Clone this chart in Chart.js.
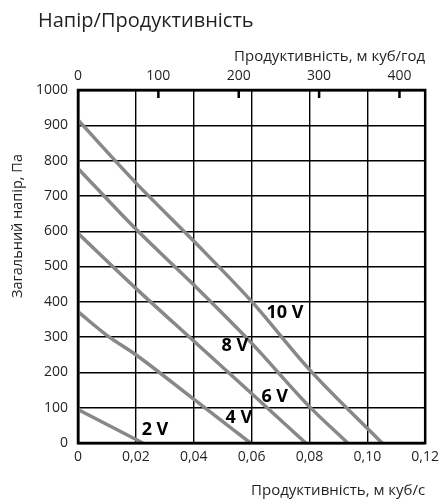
<!DOCTYPE html>
<html>
<head>
<meta charset="utf-8">
<script src="https://cdn.jsdelivr.net/npm/chart.js@4"></script>
<style>
  html, body { margin: 0; padding: 0; background: #fff; }
  #wrap { width: 445px; height: 500px; }
</style>
</head>
<body>
<div id="wrap"><canvas id="chart"></canvas></div>
<script>
// Напір/Продуктивність: flow (m3/s) vs pressure (Pa) per control voltage
const voltages = ['10 V', '8 V', '6 V', '4 V', '2 V'];
const flow10 = [0, 0.02, 0.04, 0.06, 0.08, 0.1051];
const head10 = [915, 737, 572, 401, 208, 0];
const flow8 = [0, 0.02, 0.04, 0.06, 0.08, 0.0932];
const head8 = [778, 606, 448, 283, 103, 0];
const flow6 = [0, 0.02, 0.04, 0.06, 0.0787];
const head6 = [594, 438, 289, 140, 0];
const flow4 = [0, 0.01, 0.02, 0.04, 0.0596];
const head4 = [372, 305, 250, 124, 0];
const flow2 = [0, 0.0224];
const head2 = [95, 0];
// where each voltage label sits (flow, pressure)
const labelFlow = [0.0715, 0.0542, 0.0680, 0.0556, 0.0266];
const labelHead = [370, 275, 132, 70, 36];

const flowMax = 0.12;      // m3/s
const headMax = 1000;      // Pa
const flowTicks = [0, 0.02, 0.04, 0.06, 0.08, 0.10, 0.12];
const hourTicks = [0, 100, 200, 300, 400];

const font = 'Open Sans';
const ink = '#231f20';

const curves = [[flow10, head10], [flow8, head8], [flow6, head6], [flow4, head4], [flow2, head2]];
const datasets = curves.map(([fx, hy], i) => ({
  label: voltages[i],
  data: fx.map((x, j) => ({ x: x, y: hy[j] })),
  borderColor: '#888888',
  borderWidth: 3.5,
  pointRadius: 0,
  cubicInterpolationMode: 'monotone',
  fill: false
}));

const decor = {
  id: 'decor',
  afterDatasetsDraw(chart) {
    const { ctx, chartArea: a, scales } = chart;
    ctx.save();
    // frame
    ctx.strokeStyle = '#000';
    ctx.lineWidth = 2.5;
    ctx.strokeRect(a.left, a.top, a.right - a.left, a.bottom - a.top);
    // inward ticks of the m3/h axis
    const top = scales.x2;
    top.ticks.forEach(t => {
      if (t.value === 0) return;
      const px = top.getPixelForValue(t.value);
      ctx.beginPath();
      ctx.moveTo(px, a.top);
      ctx.lineTo(px, a.top + 8);
      ctx.stroke();
    });
    // voltage labels
    ctx.fillStyle = '#000';
    ctx.font = 'bold 18px "' + font + '"';
    ctx.textAlign = 'center';
    ctx.textBaseline = 'middle';
    voltages.forEach((v, i) => {
      ctx.fillText(v, scales.x.getPixelForValue(labelFlow[i]), scales.y.getPixelForValue(labelHead[i]));
    });
    // title
    ctx.fillStyle = ink;
    ctx.font = '20px "' + font + '"';
    ctx.textAlign = 'left';
    ctx.fillText('Напір/Продуктивність', 38, 21);
    // y axis title
    ctx.font = '14.5px "' + font + '"';
    ctx.textAlign = 'center';
    ctx.translate(18, 226);
    ctx.rotate(-Math.PI / 2);
    ctx.fillText('Загальний напір, Па', 0, 0);
    ctx.restore();
  }
};

new Chart(document.getElementById('chart'), {
  type: 'line',
  data: { datasets: datasets },
  options: {
    responsive: true,
    maintainAspectRatio: false,
    animation: false,
    layout: { padding: { top: 32, right: 13, left: 0, bottom: 0 } },
    plugins: { legend: { display: false }, tooltip: { enabled: false } },
    scales: {
      x: {
        type: 'linear',
        position: 'bottom',
        min: 0,
        max: flowMax,
        afterBuildTicks: s => { s.ticks = flowTicks.map(v => ({ value: v })); },
        afterFit: s => { s.height = 57; },
        ticks: {
          color: ink,
          font: { family: font, size: 14 },
          padding: 6,
          maxRotation: 0,
          callback: v => v === 0 ? '0' : v.toFixed(2).replace('.', ',')
        },
        grid: { color: '#000', lineWidth: 1.4, drawTicks: false },
        border: { color: '#000', width: 2.5 },
        title: {
          display: true,
          text: 'Продуктивність, м куб/с',
          align: 'end',
          color: ink,
          font: { family: font, size: 15 },
          padding: { top: 0, bottom: 0 }
        }
      },
      x2: {
        type: 'linear',
        position: 'top',
        min: 0,
        max: flowMax * 3600,
        afterBuildTicks: s => { s.ticks = hourTicks.map(v => ({ value: v })); },
        afterFit: s => { s.height = 58; },
        ticks: {
          color: ink,
          font: { family: font, size: 14 },
          padding: 6,
          maxRotation: 0
        },
        grid: { display: false, drawTicks: false },
        border: { display: true, color: '#000', width: 2.5 },
        title: {
          display: true,
          text: 'Продуктивність, м куб/год',
          align: 'end',
          color: ink,
          font: { family: font, size: 15 },
          padding: { top: 16, bottom: 0 }
        }
      },
      y: {
        type: 'linear',
        min: 0,
        max: headMax,
        afterFit: s => { s.width = 78; },
        ticks: {
          stepSize: 100,
          color: ink,
          font: { family: font, size: 14 },
          padding: 10,
          callback: v => String(v)
        },
        grid: { color: '#000', lineWidth: 1.4, drawTicks: false },
        border: { color: '#000', width: 2.5 },
        title: { display: false }
      }
    }
  },
  plugins: [decor]
});
</script>
</body>
</html>
